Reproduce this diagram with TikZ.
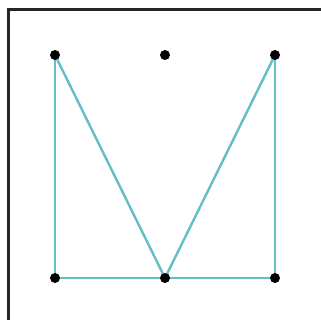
\documentclass[tikz,border=0pt]{standalone}
\usetikzlibrary{backgrounds}
\definecolor{tealline}{RGB}{100,190,198}
\tikzset{
  dot/.style={circle,fill=black,inner sep=0pt,minimum size=10pt},
  edge/.style={draw=tealline,line width=2.4pt},
  frameline/.style={draw=black!85,line width=2.5pt}
}
\begin{document}
\begin{tikzpicture}[x=1pt,y=-1pt]
\useasboundingbox (0,0) rectangle (320,320);
\coordinate (f1) at (8.5,321);
\coordinate (f2) at (8.5,9.5);
\coordinate (f3) at (321,9.5);
\draw[frameline] (f1) -- (f2) -- (f3);
\node[dot] (tl) at (55,55) {};
\node[dot] (tm) at (165,55) {};
\node[dot] (tr) at (275,55) {};
\node[dot] (bl) at (55,278) {};
\node[dot] (bm) at (165,278) {};
\node[dot] (br) at (275,278) {};
\begin{scope}[on background layer]
\fill[white] (0,0) rectangle (320,320);
\path[edge] (tl.center) -- (bl.center) -- (bm.center) -- (br.center) -- (tr.center);
\path[edge] (tl.center) -- (bm.center) -- (tr.center);
\end{scope}
\end{tikzpicture}
\end{document}
